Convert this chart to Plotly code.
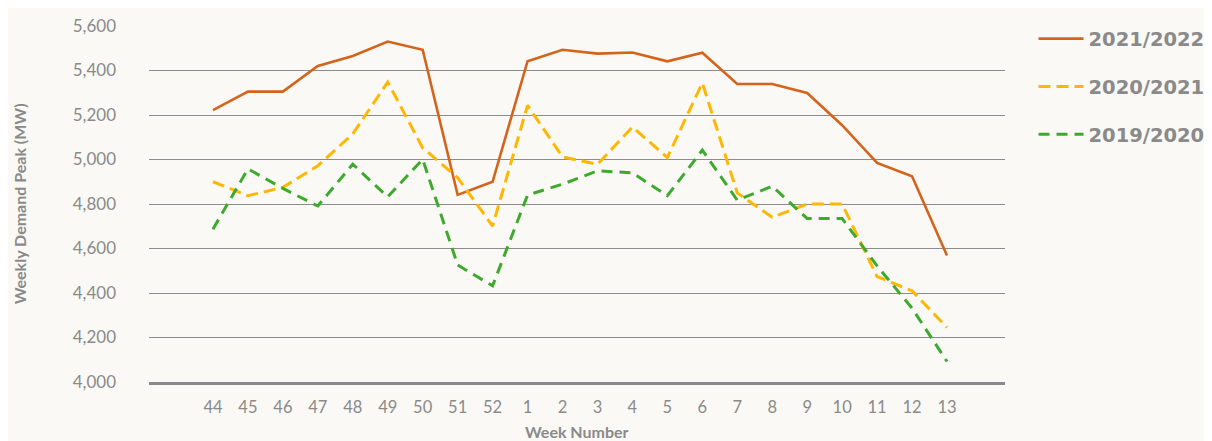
import plotly.graph_objects as go

weeks = ["44", "45", "46", "47", "48", "49", "50", "51", "52", "1", "2", "3",
         "4", "5", "6", "7", "8", "9", "10", "11", "12", "13"]

peak_2021_2022 = [5222, 5305, 5305, 5420, 5465, 5530, 5493, 4841, 4900, 5442,
                  5493, 5476, 5481, 5441, 5480, 5339, 5339, 5299, 5154, 4985,
                  4925, 4569]
peak_2020_2021 = [4900, 4837, 4875, 4972, 5115, 5348, 5052, 4918, 4701, 5243,
                  5012, 4978, 5146, 5009, 5344, 4850, 4740, 4800, 4800, 4474,
                  4410, 4245]
peak_2019_2020 = [4687, 4958, 4870, 4791, 4979, 4832, 5001, 4526, 4432, 4840,
                  4889, 4949, 4940, 4837, 5042, 4817, 4880, 4735, 4735, 4522,
                  4332, 4092]

y_ticks = [4000, 4200, 4400, 4600, 4800, 5000, 5200, 5400, 5600]

series = [
    ("2021/2022", peak_2021_2022, "#D5631B", "solid", 2.6),
    ("2020/2021", peak_2020_2021, "#FFB703", "12px,6px", 3),
    ("2019/2020", peak_2019_2020, "#3DAA2E", "11px,7px", 3),
]

BG = "#FAF9F5"
GREY = "#8a8a8a"
FONT = "Lato, Open Sans, sans-serif"

fig = go.Figure()
for name, vals, color, dash, w in series:
    fig.add_trace(go.Scatter(
        x=weeks, y=vals, name=name, mode="lines",
        line=dict(color=color, width=w, dash=dash),
        legendgroup=name,
    ))

fig.update_layout(
    width=1204, height=433,
    paper_bgcolor=BG, plot_bgcolor=BG,
    margin=dict(l=141, r=207, t=18, b=59, autoexpand=False),
    font=dict(family=FONT, color=GREY, size=15),
    showlegend=True,
    legend=dict(
        x=1.0333, xanchor="left", y=1.0185, yanchor="top",
        font=dict(family="DejaVu Sans", size=19.5, color=GREY, weight="bold"),
        tracegroupgap=19.5, bgcolor="rgba(0,0,0,0)",
        itemwidth=45,
    ),
    xaxis=dict(
        type="category", range=[-1.83, 22.66],
        showgrid=False, showline=True, linecolor=GREY, linewidth=3,
        ticks="", tickfont=dict(size=16.5, color=GREY),
        ticklabelstandoff=8, zeroline=False,
    ),
    yaxis=dict(
        range=[4000, 5600], tickvals=y_ticks, tickformat=",",
        showgrid=True, gridcolor="#8c8c8c", gridwidth=1,
        zeroline=False, showline=False, ticks="",
        tickfont=dict(size=17, color=GREY),
        ticklabelstandoff=32,
    ),
    annotations=[
        dict(text="<b>Weekly Demand Peak (MW)</b>", xref="paper", yref="paper",
             x=-0.1515, y=0.5, xanchor="center", yanchor="middle", textangle=-90,
             showarrow=False, font=dict(size=16, color=GREY, family=FONT)),
        dict(text="<b>Week Number</b>", xref="paper", yref="paper",
             x=0.5, y=-0.140, xanchor="center", yanchor="middle",
             showarrow=False, font=dict(size=16, color=GREY, family=FONT)),
    ],
)

fig.write_html("out.html")
